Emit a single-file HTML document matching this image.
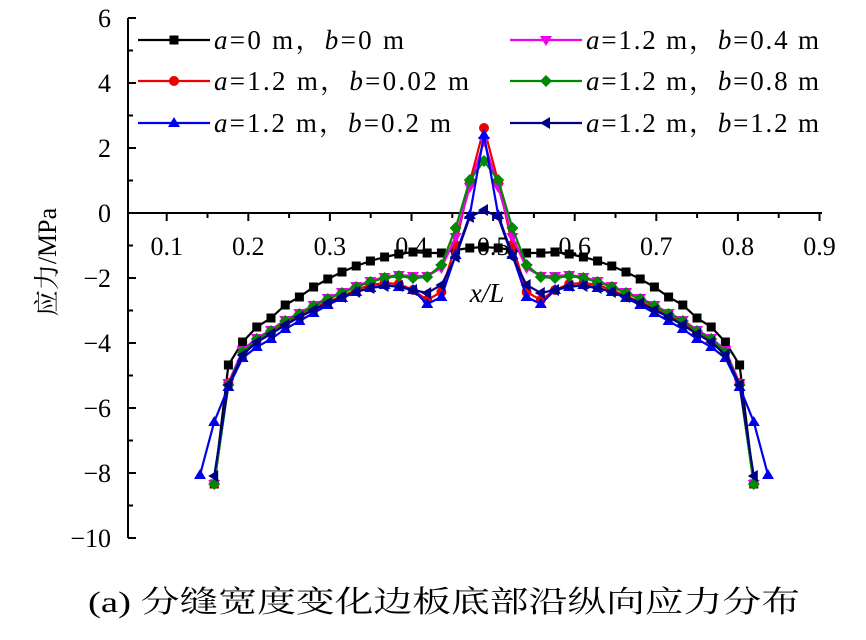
<!DOCTYPE html><html><head><meta charset="utf-8"><style>body{margin:0;background:#fff}svg{display:block}</style></head><body>
<svg id="s" width="866" height="640" xmlns="http://www.w3.org/2000/svg" font-family="Liberation Serif, Noto Serif CJK SC, serif">
<g id="axes" stroke="#000" stroke-width="2"></g>
<g id="data"></g>
<g id="leg"></g>
<text x="56" y="262" font-size="26" text-anchor="middle" transform="rotate(-90 56 262)" font-family="Liberation Serif, Noto Serif CJK SC, serif">应力/MPa</text>
<text x="487" y="302" font-size="27" font-style="italic" text-anchor="middle">x/L</text>
<text x="88" y="612" font-size="30" textLength="712" lengthAdjust="spacingAndGlyphs" font-family="Liberation Serif, Noto Serif CJK SC, serif">(a)  分缝宽度变化边板底部沿纵向应力分布</text>
</svg>
<script>
const NS="http://www.w3.org/2000/svg";
function el(p,t,a,txt){const e=document.createElementNS(NS,t);for(const k in a)e.setAttribute(k,a[k]);if(txt!=null)e.textContent=txt;p.appendChild(e);return e;}
const ax=document.getElementById('axes'),s=document.getElementById('s');
el(ax,'line',{x1:128,y1:18,x2:128,y2:538});
el(ax,'line',{x1:128,y1:213,x2:822,y2:213});
for(let v=-10;v<=6;v++){const y=213-v*32.5;el(ax,'line',{x1:128,y1:y,x2:128+(v%2==0?8:5),y2:y});
 if(v%2==0)el(s,'text',{x:111,y:y+9,'font-size':26,'text-anchor':'end'},(v<0?'−':'')+Math.abs(v));}
for(let i=2;i<=18;i++){const x=166.7+(i-2)*40.8;const maj=i%2==0;el(ax,'line',{x1:x,y1:213,x2:x,y2:213+(maj?8:5)});
 if(maj)el(s,'text',{x:x,y:255,'font-size':26,'text-anchor':'middle'},'0.'+(i/2));}
const series=[
['#000','sq',[247,248,250,253,253,252,254,257,261,266,272,279,287,297,305,318,327,342,365,484]],
['#e00','ci',[128,182,245,292,300,290,284,283,285,290,296,302,308,316,323,333,340,352,383,484]],
['#e0e','dt',[141,187,237,268,276,276,275,277,281,286,292,298,305,313,320,330,338,350,383,484]],
['#080','di',[161,180,228,265,277,278,276,278,282,287,293,299,306,314,321,331,339,352,385,484]],
['#00e','ut',[135,215,255,297,304,290,287,285,288,292,298,305,313,321,329,339,347,358,387,422,475]],
['#008','lt',[210,217,257,285,293,290,286,286,288,292,297,303,310,317,325,334,342,355,385,476]]];
const C=484,D=14.2;
function mk(g,t,x,y,c){const r=4.5;
 if(t=='sq')el(g,'rect',{x:x-r,y:y-r,width:2*r,height:2*r,fill:c});
 else if(t=='ci')el(g,'circle',{cx:x,cy:y,r:r+0.5,fill:c});
 else if(t=='ut')el(g,'polygon',{points:`${x},${y-6} ${x-6},${y+4} ${x+6},${y+4}`,fill:c});
 else if(t=='dt')el(g,'polygon',{points:`${x},${y+6} ${x-6},${y-4} ${x+6},${y-4}`,fill:c});
 else if(t=='di')el(g,'polygon',{points:`${x},${y-6} ${x+6},${y} ${x},${y+6} ${x-6},${y}`,fill:c});
 else if(t=='lt')el(g,'polygon',{points:`${x-6},${y} ${x+4},${y-6} ${x+4},${y+6}`,fill:c});}
const dg=document.getElementById('data');
for(const [c,t,v] of series){const pts=[];
 for(let k=v.length-1;k>0;k--)pts.push([C-k*D,v[k]]);
 for(let k=0;k<v.length;k++)pts.push([C+k*D,v[k]]);
 const g=el(dg,'g',{});
 el(g,'polyline',{points:pts.map(p=>p.join(',')).join(' '),fill:'none',stroke:c,'stroke-width':2.2});
 for(const p of pts)mk(g,t,p[0],p[1],c);}
const lg=document.getElementById('leg');
const L=[[138,40,0,'0','0',190],[138,81,1,'1.2','0.02',255],[138,123,4,'1.2','0.2',237],[510,40,2,'1.2','0.4',233],[510,81,3,'1.2','0.8',233],[510,123,5,'1.2','1.2',233]];
for(const [x,y,i,a,b,w] of L){const [c,t]=series[i];
 el(lg,'line',{x1:x,y1:y,x2:x+72,y2:y,stroke:c,'stroke-width':2.2});mk(lg,t,x+36,y,c);
 const tx=el(lg,'text',{x:x+76,y:y+9,'font-size':27,textLength:w,lengthAdjust:'spacing'});
 tx.innerHTML=`<tspan font-style="italic">a</tspan>=${a} m，<tspan font-style="italic">b</tspan>=${b} m`;}
</script>
</body></html>
